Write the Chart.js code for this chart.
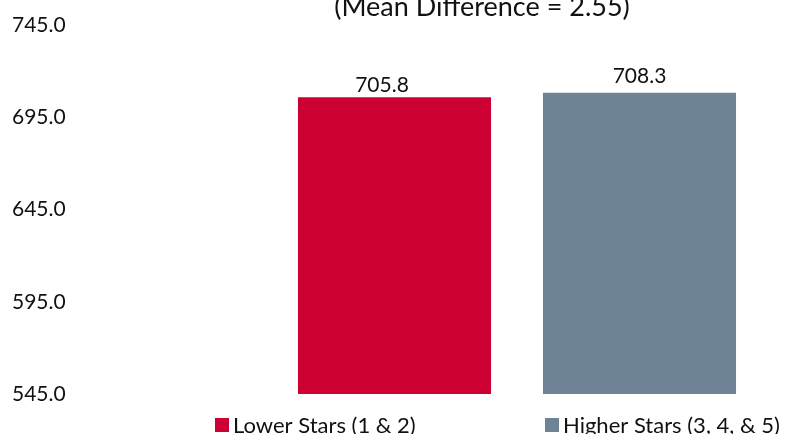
<!DOCTYPE html>
<html>
<head>
<meta charset="utf-8">
<script src="https://cdn.jsdelivr.net/npm/chart.js@4.4.1/dist/chart.umd.min.js"></script>
<style>
body{margin:0;background:#fff;}
#wrap{width:785px;height:434px;position:relative;}
</style>
</head>
<body>
<div id="wrap"><canvas id="grafico"></canvas></div>
<script>
// Datos
const categorias=["Lower Stars (1 & 2)","Higher Stars (3, 4, & 5)"];
const medias=[705.8,708.3];
const colores=["#CC0033","#6F8397"];
const titulo="(Mean Difference = 2.55)";
const ticksY=[545,595,645,695,745];

const fuente="Lato, 'Noto Sans', sans-serif";

// Etiquetas, titulo y leyenda dibujados a mano
const extras={
  id:"extras",
  afterDatasetsDraw(chart){
    const ctx=chart.ctx;
    const meta=chart.getDatasetMeta(0);
    const desplaza=[[-12.5,-5],[0,-10]];
    ctx.save();
    ctx.fillStyle="#111";
    ctx.font="21px "+fuente;
    ctx.textAlign="center";
    ctx.textBaseline="alphabetic";
    meta.data.forEach((bar,i)=>{
      ctx.fillText(medias[i].toFixed(1),bar.x+desplaza[i][0],bar.y+desplaza[i][1]);
    });

    // titulo
    ctx.font="27px "+fuente;
    ctx.fillText(titulo,482,16);

    // leyenda
    const posX=[215,545];
    ctx.font="22px "+fuente;
    ctx.textAlign="left";
    categorias.forEach((c,i)=>{
      ctx.fillStyle=colores[i];
      ctx.fillRect(posX[i],418,14,14);
      ctx.fillStyle="#111";
      ctx.fillText(c,posX[i]+18,433);
    });
    ctx.restore();
  }
};

new Chart(document.getElementById("grafico"),{
  type:"bar",
  data:{labels:categorias,datasets:[{
    label:"Mean",
    data:medias,
    backgroundColor:colores,
    barPercentage:0.788,
    categoryPercentage:1
  }]},
  options:{
    responsive:true,
    maintainAspectRatio:false,
    animation:false,
    layout:{padding:{left:12,right:23,top:25,bottom:40}},
    plugins:{legend:{display:false},title:{display:false},tooltip:{enabled:false}},
    scales:{
      x:{display:false},
      y:{
        min:545,max:745,
        afterBuildTicks:s=>{s.ticks=ticksY.map(v=>({value:v}));},
        afterFit:s=>{s.width=260;},
        grid:{display:false},
        border:{display:false},
        ticks:{
          crossAlign:"far",
          color:"#111",
          font:{family:fuente,size:21},
          callback:v=>Number(v).toFixed(1)
        }
      }
    }
  },
  plugins:[extras]
});
</script>
</body>
</html>
